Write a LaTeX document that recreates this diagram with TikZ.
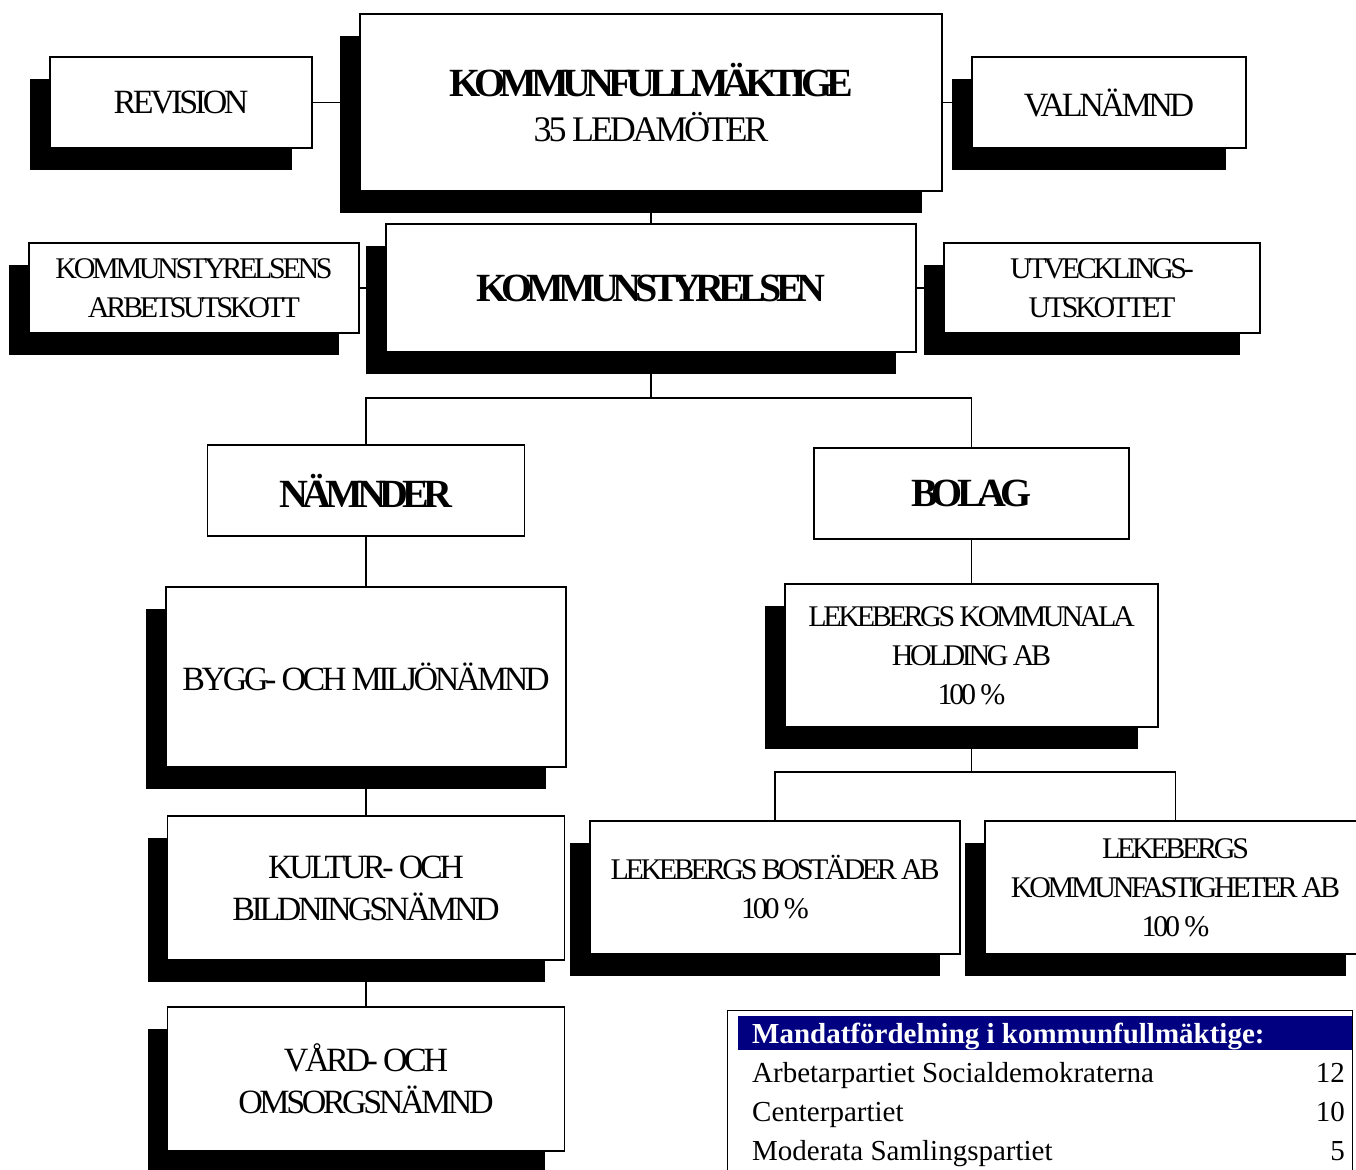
\documentclass[tikz,border=0pt]{standalone}
\usepackage{fontspec}
\setmainfont{Liberation Serif}
\usepackage{tikz}
\usetikzlibrary{positioning, shadows}
\definecolor{colorHeader}{RGB}{0,0,128}
\tikzset{
  box/.style={draw, fill=white, line width=1.8pt, align=center, inner sep=0pt, outer sep=0pt},
  shadowed/.style={box, drop shadow={shadow xshift=-20pt, shadow yshift=-22pt, fill=black, opacity=1}},
  bigtext/.style={font=\fontsize{34}{42}\selectfont\addfontfeature{LetterSpace=-10}},
  smalltext/.style={font=\fontsize{30}{39}\selectfont\addfontfeature{LetterSpace=-11}},
  headtext/.style={font=\fontsize{40}{45}\selectfont\bfseries\addfontfeature{LetterSpace=-15}},
  tabletext/.style={font=\fontsize{29}{39}\selectfont, inner sep=0pt},
  link/.style={line width=1.8pt},
}

\begin{document}
\begin{tikzpicture}[x=1pt, y=-1pt]
\useasboundingbox (0,0) rectangle (1356,1169);
% top rows
\node[shadowed, minimum width=582pt, minimum height=177pt, font=\fontsize{36}{45}\selectfont\addfontfeature{LetterSpace=-9}] (kf) at (651,102.5) {{\fontsize{40}{45}\selectfont\bfseries\addfontfeature{LetterSpace=-15}KOMMUNFULLMÄKTIGE}\\35 LEDAMÖTER};
\node[shadowed, bigtext, minimum width=262pt, minimum height=91pt, left=48pt of kf] (rev) {REVISION};
\node[shadowed, bigtext, minimum width=274pt, minimum height=91pt, right=30pt of kf] (val) {VALNÄMND};
\node[shadowed, headtext, minimum width=530pt, minimum height=128pt, below=33pt of kf] (ks) {KOMMUNSTYRELSEN};
\node[shadowed, smalltext, minimum width=330pt, minimum height=90pt, left=27pt of ks] (ksau) {KOMMUNSTYRELSENS\\ARBETSUTSKOTT};
\node[shadowed, smalltext, minimum width=316pt, minimum height=90pt, right=28pt of ks] (utv) {UTVECKLINGS-\\UTSKOTTET};
% left branch
\node[box, headtext, minimum width=317pt, minimum height=91pt] (namnder) at (366,490.5) {NÄMNDER};
\node[shadowed, bigtext, minimum width=400pt, minimum height=180pt, below=51pt of namnder] (bygg) {BYGG- OCH MILJÖNÄMND};
\node[shadowed, bigtext, minimum width=397pt, minimum height=144pt, below=49pt of bygg] (kultur) {KULTUR- OCH\\BILDNINGSNÄMND};
\node[shadowed, bigtext, minimum width=397pt, minimum height=144pt, below=47pt of kultur] (vard) {VÅRD- OCH\\OMSORGSNÄMND};
% right branch
\node[box, headtext, minimum width=315pt, minimum height=91pt] (bolag) at (971.5,493.5) {BOLAG};
\node[shadowed, smalltext, minimum width=373pt, minimum height=143pt, below=45pt of bolag] (holding) {LEKEBERGS KOMMUNALA\\HOLDING AB\\100 \%};
\node[shadowed, smalltext, minimum width=370pt, minimum height=133pt] (bostader) at (775,887.5) {LEKEBERGS BOSTÄDER AB\\100 \%};
\node[shadowed, smalltext, minimum width=381pt, minimum height=133pt] (fastighet) at (1175.5,887.5) {LEKEBERGS\\KOMMUNFASTIGHETER AB\\100 \%};
% connectors
\draw[link] (rev) -- (kf);
\draw[link] (kf) -- (val);
\draw[link] (kf) -- (ks);
\draw[link] (ksau) -- (ks);
\draw[link] (ks) -- (utv);
\draw[link] (ks.south) -- ++(0,46) -| (namnder.north);
\draw[link] (ks.south) -- ++(0,46) -| (bolag.north);
\draw[link] (namnder) -- (bygg);
\draw[link] (bygg) -- (kultur);
\draw[link] (kultur) -- (vard);
\draw[link] (bolag) -- (holding);
\draw[link] (holding.south) -- ++(0,45) -| (bostader.north);
\draw[link] (holding.south) -- ++(0,45) -| (fastighet.north);
% mandate table
\draw[line width=1pt] (727,1175) |- (1352,1010) -- (1352,1175);
\fill[colorHeader] (738,1016) rectangle (1352,1050);
\node[tabletext, anchor=base west, text=white, font=\fontsize{29}{39}\selectfont\bfseries] (mandat) at (752,1043) {Mandatfördelning i kommunfullmäktige:};
\node[tabletext, anchor=base west] (partiS) at (752,1082) {Arbetarpartiet Socialdemokraterna};
\node[tabletext, anchor=base west] (partiC) at (752,1121) {Centerpartiet};
\node[tabletext, anchor=base west] (partiM) at (752,1160) {Moderata Samlingspartiet};
\node[tabletext, anchor=base east] (numS) at (1345,1082) {12};
\node[tabletext, anchor=base east] (numC) at (1345,1121) {10};
\node[tabletext, anchor=base east] (numM) at (1345,1160) {5};
\end{tikzpicture}
\end{document}
